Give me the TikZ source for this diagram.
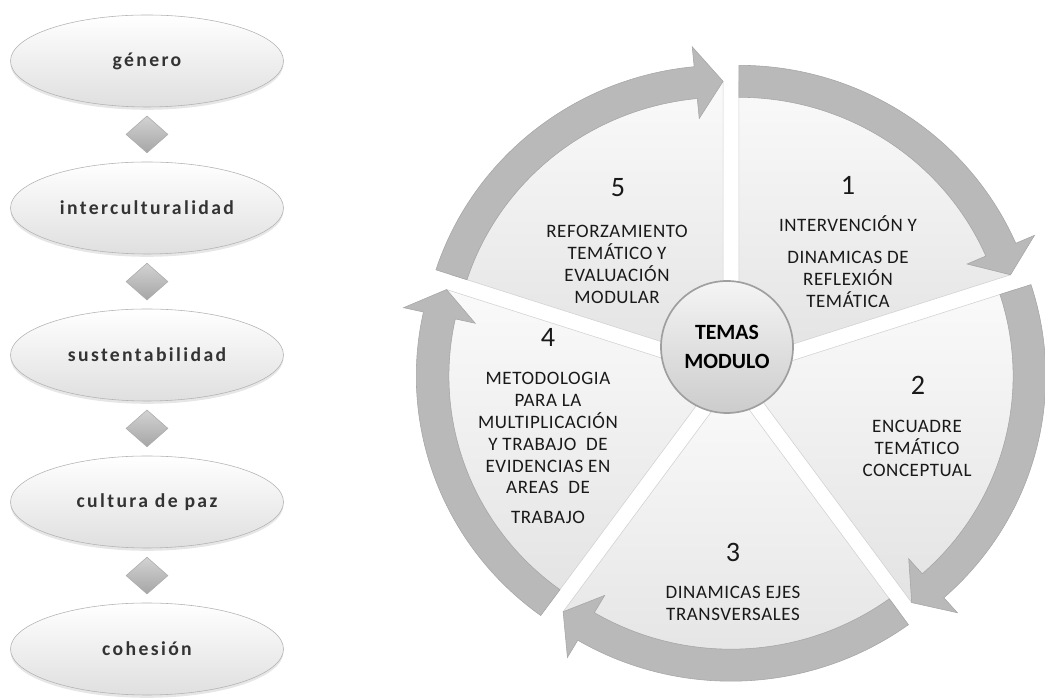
\documentclass[tikz,border=0pt]{standalone}
\usepackage{fontspec}
\usepackage{xcolor}
\usepackage{tikz}
\usetikzlibrary{shapes.geometric,shadows}
\setmainfont{Carlito}
\newfontfamily\ovalfont[LetterSpace=12]{Carlito}
\newfontfamily\wedgefont[LetterSpace=3]{Carlito}

\begin{document}
\begin{tikzpicture}
	\tikzstyle{oval}=[ellipse, minimum width=6.825cm, minimum height=2.3cm, inner sep=0pt, draw=gray!60, top color=white, bottom color=gray!25, drop shadow={opacity=0.2, shadow xshift=0pt, shadow yshift=-2pt}, font=\ovalfont\bfseries\fontsize{14}{16}\selectfont, text=black!80];
	\tikzstyle{joint}=[diamond, minimum width=1.05cm, minimum height=0.925cm, inner sep=0pt, draw=gray!65, top color=gray!35, bottom color=gray!70];
	\tikzstyle{wedgefill}=[draw=gray!35, top color=gray!4, bottom color=gray!22];
	\tikzstyle{cyclearrow}=[draw=gray!70, fill=gray!55];
	\tikzstyle{hub}=[circle, minimum size=3.3cm, draw=gray!75, line width=1.2pt, top color=gray!8, bottom color=gray!40, align=center, font=\bfseries\fontsize{15.5}{20}\selectfont];
	\tikzstyle{num}=[font=\fontsize{20}{22}\selectfont, text=black!90];
	\tikzstyle{wtext}=[align=center, font=\wedgefont\fontsize{13.5}{15.6}\selectfont, text=black!90];
	
	\useasboundingbox (0,0) rectangle (26.125,17.5);
	
	%Left column
	\node[oval] (gen) at (3.675,15.975) {género};
	\node[joint] (j1) at (3.675,14.14) {};
	\node[oval] (inter) at (3.675,12.3) {interculturalidad};
	\node[joint] (j2) at (3.675,10.46) {};
	\node[oval] (sust) at (3.675,8.625) {sustentabilidad};
	\node[joint] (j3) at (3.675,6.79) {};
	\node[oval] (paz) at (3.675,4.95) {cultura de paz};
	\node[joint] (j4) at (3.675,3.11) {};
	\node[oval] (coh) at (3.675,1.275) {cohesión};
	
	%Cycle
	\begin{scope}[shift={(18.275,8.2)}, xscale=1.02]
		%Wedge 1
		\begin{scope}[shift={(54:0.33)}]
			\draw[wedgefill] (0,0) -- (90:7) arc[start angle=90, end angle=18, radius=7] -- cycle;
			\draw[cyclearrow] (90:7.4) arc[start angle=90, end angle=23.5, radius=7.4] -- (23.5:7.9) -- (18:7) -- (23.5:6.1) -- (23.5:6.6) arc[start angle=23.5, end angle=90, radius=6.6] -- cycle;
		\end{scope}
		%Wedge 2
		\begin{scope}[shift={(-18:0.33)}]
			\draw[wedgefill] (0,0) -- (18:7) arc[start angle=18, end angle=-54, radius=7] -- cycle;
			\draw[cyclearrow] (18:7.4) arc[start angle=18, end angle=-48.5, radius=7.4] -- (-48.5:7.9) -- (-54:7) -- (-48.5:6.1) -- (-48.5:6.6) arc[start angle=-48.5, end angle=18, radius=6.6] -- cycle;
		\end{scope}
		%Wedge 3
		\begin{scope}[shift={(-90:0.33)}]
			\draw[wedgefill] (0,0) -- (-54:7) arc[start angle=-54, end angle=-126, radius=7] -- cycle;
			\draw[cyclearrow] (-54:7.4) arc[start angle=-54, end angle=-120.5, radius=7.4] -- (-120.5:7.9) -- (-126:7) -- (-120.5:6.1) -- (-120.5:6.6) arc[start angle=-120.5, end angle=-54, radius=6.6] -- cycle;
		\end{scope}
		%Wedge 4
		\begin{scope}[shift={(198:0.33)}]
			\draw[wedgefill] (0,0) -- (234:7) arc[start angle=234, end angle=162, radius=7] -- cycle;
			\draw[cyclearrow] (234:7.4) arc[start angle=234, end angle=167.5, radius=7.4] -- (167.5:7.9) -- (162:7) -- (167.5:6.1) -- (167.5:6.6) arc[start angle=167.5, end angle=234, radius=6.6] -- cycle;
		\end{scope}
		%Wedge 5
		\begin{scope}[shift={(126:0.33)}]
			\draw[wedgefill] (0,0) -- (162:7) arc[start angle=162, end angle=90, radius=7] -- cycle;
			\draw[cyclearrow] (162:7.4) arc[start angle=162, end angle=95.5, radius=7.4] -- (95.5:7.9) -- (90:7) -- (95.5:6.1) -- (95.5:6.6) arc[start angle=95.5, end angle=162, radius=6.6] -- cycle;
		\end{scope}
	\end{scope}
	
	%Centre
	\node[hub] (hub) at (18.175,8.825) {TEMAS\\MODULO};
	
	%Labels
	\node[num] (n1) at (21.2,12.875) {1};
	\node[wtext] (t1) at (21.2,10.95) {INTERVENCIÓN Y\\[0.25cm]DINAMICAS DE\\REFLEXIÓN\\TEMÁTICA};
	\node[num] (n2) at (22.95,7.875) {2};
	\node[wtext] (t2) at (22.925,6.3) {ENCUADRE\\TEMÁTICO\\CONCEPTUAL};
	\node[num] (n3) at (18.325,3.7) {3};
	\node[wtext] (t3) at (18.325,2.425) {DINAMICAS EJES\\TRANSVERSALES};
	\node[num] (n4) at (13.7,9.075) {4};
	\node[wtext] (t4) at (13.7,6.3) {METODOLOGIA\\PARA LA\\MULTIPLICACIÓN\\Y TRABAJO\ \ DE\\EVIDENCIAS EN\\AREAS\ \ DE\\[0.2cm]TRABAJO};
	\node[num] (n5) at (15.45,12.8) {5};
	\node[wtext] (t5) at (15.425,10.89) {REFORZAMIENTO\\TEMÁTICO Y\\EVALUACIÓN\\MODULAR};
\end{tikzpicture}
\end{document}
